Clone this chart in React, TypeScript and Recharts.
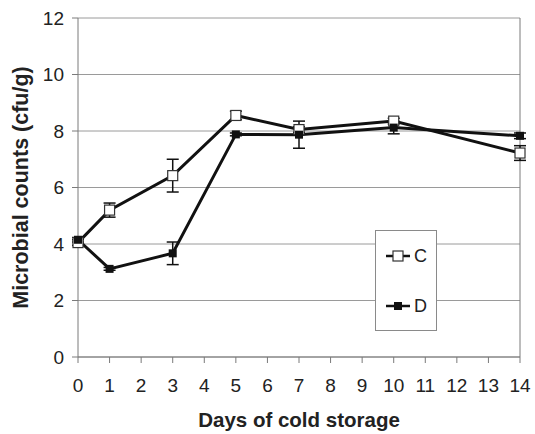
import {
  LineChart,
  Line,
  XAxis,
  YAxis,
  CartesianGrid,
  ErrorBar,
  Legend,
  ReferenceLine,
  Label,
} from "recharts";

const days = [0, 1, 3, 5, 7, 10, 14];
const cMean = [4.05, 5.2, 6.42, 8.55, 8.05, 8.35, 7.22];
const cErr = [0.1, 0.25, 0.58, 0.15, 0.1, 0.1, 0.26];
const dMean = [4.15, 3.12, 3.67, 7.88, 7.87, 8.12, 7.83];
const dErr = [0.08, 0.05, 0.4, 0.05, 0.48, 0.22, 0.1];
const xTicks = [0, 1, 2, 3, 4, 5, 6, 7, 8, 9, 10, 11, 12, 13, 14];
const yTicks = [0, 2, 4, 6, 8, 10, 12];

const rows = days.map((day, i) => ({
  day,
  C: cMean[i],
  cErr: cErr[i],
  D: dMean[i],
  dErr: dErr[i],
}));

const INK = "#111";
const GRID = "#9a9a9a";
const AXIS = "#7a7a7a";
const FONT = "'Liberation Sans', Arial, sans-serif";

function OpenSquare(props: any) {
  const { cx, cy } = props;
  if (cx == null || cy == null) return null;
  return <rect x={cx - 5} y={cy - 5} width={10} height={10} fill="#fff" stroke="#333" strokeWidth={1.2} />;
}

function FilledSquare(props: any) {
  const { cx, cy } = props;
  if (cx == null || cy == null) return null;
  return <rect x={cx - 4} y={cy - 4} width={8} height={8} fill={INK} />;
}

function LegendBox() {
  const item = (name: string, filled: boolean) => (
    <div style={{ display: "flex", alignItems: "center", height: 50 }}>
      <svg width={30} height={14} style={{ marginLeft: 8 }}>
        <line x1={2} y1={7} x2={26} y2={7} stroke={INK} strokeWidth={2.5} />
        {filled ? (
          <rect x={10} y={3} width={8} height={8} fill={INK} />
        ) : (
          <rect x={9} y={2} width={10} height={10} fill="#fff" stroke="#333" strokeWidth={1.2} />
        )}
      </svg>
      <span style={{ fontSize: 18, color: "#222" }}>{name}</span>
    </div>
  );
  return (
    <div
      style={{
        width: 60,
        height: 99,
        border: "1px solid #8a8a8a",
        background: "#fff",
        fontFamily: FONT,
        boxSizing: "content-box",
      }}
    >
      {item("C", false)}
      {item("D", true)}
    </div>
  );
}

export default function App() {
  return (
    <div style={{ position: "absolute", left: 0, top: 0, background: "#fff" }}>
      <LineChart
        width={535}
        height={434}
        data={rows}
        margin={{ top: 18, right: 15, bottom: 37, left: 0 }}
        style={{ fontFamily: FONT }}
      >
        <CartesianGrid stroke={GRID} vertical={false} />
        <XAxis
          dataKey="day"
          type="number"
          domain={[0, 14]}
          ticks={xTicks}
          interval={0}
          height={40}
          stroke={AXIS}
          tickSize={6}
          tickMargin={16}
          tick={{ fontSize: 19, fill: "#222" }}
        >
          <Label
            value="Days of cold storage"
            position="bottom"
            offset={15}
            style={{ fontSize: 20.5, fontWeight: 700, fill: "#222" }}
          />
        </XAxis>
        <YAxis
          type="number"
          domain={[0, 12]}
          ticks={yTicks}
          width={78}
          stroke={AXIS}
          tickSize={6}
          tickMargin={8}
          tick={{ fontSize: 19, fill: "#222" }}
        >
          <Label
            value="Microbial counts (cfu/g)"
            angle={-90}
            position="insideLeft"
            offset={20.5}
            style={{ textAnchor: "middle", fontSize: 21.5, fontWeight: 700, fill: "#222" }}
          />
        </YAxis>
        <ReferenceLine x={14} stroke={AXIS} />
        <Legend
          layout="vertical"
          align="center"
          verticalAlign="middle"
          content={() => <LegendBox />}
          wrapperStyle={{ left: 375, top: 230, width: 62, height: 101 }}
        />
        <Line
          dataKey="C"
          type="linear"
          stroke={INK}
          strokeWidth={3}
          dot={<OpenSquare />}
          activeDot={false}
          isAnimationActive={false}
        >
          <ErrorBar dataKey="cErr" direction="y" width={6} stroke={INK} strokeWidth={1.5} isAnimationActive={false} />
        </Line>
        <Line
          dataKey="D"
          type="linear"
          stroke={INK}
          strokeWidth={3}
          dot={<FilledSquare />}
          activeDot={false}
          isAnimationActive={false}
        >
          <ErrorBar dataKey="dErr" direction="y" width={6} stroke={INK} strokeWidth={1.5} isAnimationActive={false} />
        </Line>
      </LineChart>
    </div>
  );
}
